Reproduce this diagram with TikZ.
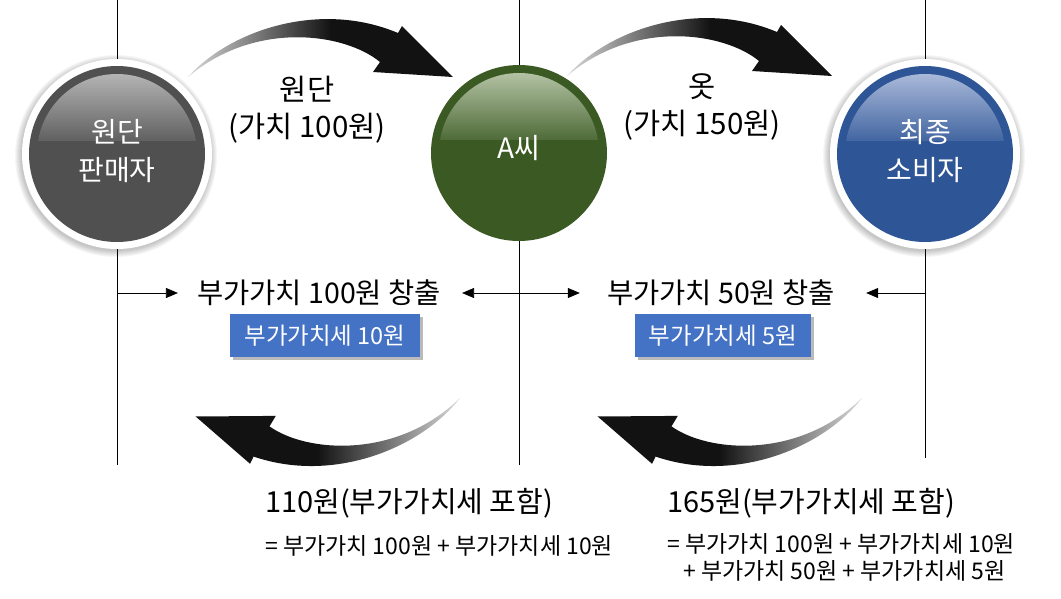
\documentclass[tikz,border=0pt]{standalone}
\usepackage{fontspec}
\setmainfont{Noto Sans CJK KR}
\usetikzlibrary{arrows.meta,shadows}
\definecolor{ballgray}{HTML}{505050}
\definecolor{ballgrayhi}{HTML}{B4B4B4}
\definecolor{ballgreen}{HTML}{3B5A23}
\definecolor{ballgreenhi}{HTML}{B3C2A4}
\definecolor{ballblue}{HTML}{2E5596}
\definecolor{ballbluehi}{HTML}{A9B9D9}
\definecolor{taxblue}{HTML}{4472C4}
\pgfdeclarehorizontalshading{fadearrow}{100bp}{color(0bp)=(black!15); color(25bp)=(black!15); color(52bp)=(black!93); color(100bp)=(black!93)}
\newcommand{\ballring}[1]{%
  \foreach \r in {95,...,101}
    \fill[black,opacity=0.035] ([shift={(-1,2)}]#1) circle (\r pt);
  \fill[white] (#1) circle (95pt);
}
\newcommand{\glassball}[3]{%
  \fill[#2] (#1) circle (88pt);
  \begin{scope}
    \clip (#1) circle (80pt);
    \shade[top color=#3,bottom color=#2] (#1) ++(-80,-80) rectangle ++(160,66);
  \end{scope}
}
\newcommand{\fatarrow}[1]{%
  \shade[shading=fadearrow,#1] (0,0) .. controls (42,-47) and (132,-77) .. (210,-44)
    -- (214,-51) -- (265,0) -- (185,-5) -- (192,-15)
    .. controls (157,-44) and (67,-57) .. (0,0) -- cycle;
}
\tikzset{
  divider/.style={line width=0.8pt},
  balltext/.style={text=white,align=center,font=\fontsize{28}{38}\selectfont},
  flowtext/.style={align=center,font=\fontsize{29.5}{37}\selectfont},
  gaintext/.style={inner sep=0pt,font=\fontsize{28.5}{28.5}\selectfont},
  taxbox/.style={fill=taxblue,text=white,minimum width=#1,minimum height=43pt,inner sep=0pt,
    font=\fontsize{23.5}{23.5}\selectfont,
    drop shadow={shadow xshift=3pt,shadow yshift=-3pt,fill=black!45,opacity=0.6}},
  paytext/.style={anchor=west,inner sep=0pt,font=\fontsize{29}{29}\selectfont},
  sumtext/.style={anchor=west,inner sep=0pt,align=left,font=\fontsize{23}{27}\selectfont},
  hline/.style={line width=0.8pt,-{Triangle[length=12pt,width=10pt]}}
}
\begin{document}
\begin{tikzpicture}[x=1pt,y=-1pt]
  \useasboundingbox (0,0) rectangle (1061,598);
  \foreach \x/\y in {117/465,519/465,925/458}
    \draw[divider] (\x,0) -- (\x,\y);
  \coordinate (src) at (117,154);
  \coordinate (mid) at (519,153);
  \coordinate (dst) at (925,154);
  \ballring{src}
  \ballring{dst}
  \glassball{src}{ballgray}{ballgrayhi}
  \glassball{mid}{ballgreen}{ballgreenhi}
  \glassball{dst}{ballblue}{ballbluehi}
  \node[balltext] (srctext) at ([yshift=3pt]src) {원단\\판매자};
  \node[balltext] (midtext) at ([yshift=5pt]mid) {A씨};
  \node[balltext] (dsttext) at ([yshift=3pt]dst) {최종\\소비자};
  \fatarrow{shift={(188,77)}}
  \fatarrow{shift={(567,76)}}
  \fatarrow{shift={(460,398)},rotate=184,shading angle=180}
  \fatarrow{shift={(862,398)},rotate=184,shading angle=180}
  \node[flowtext] (goods1) at (307,110) {원단\\(가치 100원)};
  \node[flowtext] (goods2) at (702,107) {옷\\(가치 150원)};
  \node[gaintext] (gain1) at (319,293) {부가가치 100원 창출};
  \node[gaintext] (gain2) at (721,293) {부가가치 50원 창출};
  \node[taxbox=190pt] (tax1) at (325,335.5) {부가가치세 10원};
  \node[taxbox=176pt] (tax2) at (723,335.5) {부가가치세 5원};
  \coordinate (gl1) at (117,293);
  \coordinate (gl2) at (519,293);
  \coordinate (gl3) at (925,293);
  \draw[hline] (gl1) -- ([xshift=-19pt]gain1.west);
  \draw[hline] (gl2) -- ([xshift=21pt]gain1.east);
  \draw[hline] (gl2) -- ([xshift=-27pt]gain2.west);
  \draw[hline] (gl3) -- ([xshift=31pt]gain2.east);
  \node[paytext] (pay1) at (265,503) {110원(부가가치세 포함)};
  \node[sumtext] (sum1) at (265,546) {= 부가가치 100원 + 부가가치세 10원};
  \node[paytext] (pay2) at (667,503) {165원(부가가치세 포함)};
  \node[sumtext] (sum2) at (667,557.5) {= 부가가치 100원 + 부가가치세 10원\\\hspace*{16pt}+ 부가가치 50원 + 부가가치세 5원};
\end{tikzpicture}
\end{document}
